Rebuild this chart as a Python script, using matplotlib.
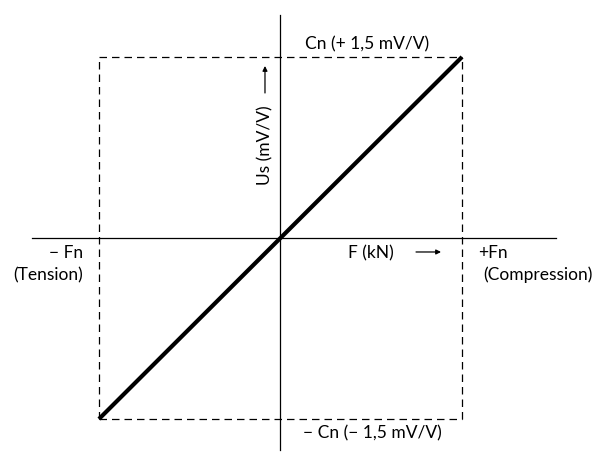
import matplotlib
matplotlib.use("Agg")
import matplotlib.pyplot as plt

# Data (force normalised to Fn, signal in mV/V)
force = [-1.0, 1.0]
signal = [-1.5, 1.5]
cn = 1.5
fn = 1.0

plt.rcParams['font.family'] = ['Lato', 'DejaVu Sans']

fig = plt.figure(figsize=(6.08, 4.61), dpi=100)
ax = fig.add_axes([0, 0, 1, 1])
ax.set_xlim(-1.545, 1.804)
ax.set_ylim(-1.848, 1.972)
ax.axis('off')

# axes lines
ax.plot([-1.369, 1.515], [0, 0], color='black', lw=0.9)
ax.plot([0, 0], [-1.757, 1.848], color='black', lw=0.9)

# dashed box
dash = dict(color='black', lw=0.9, linestyle=(0, (6, 4)))
ax.plot([-fn, fn], [cn, cn], **dash)
ax.plot([-fn, fn], [-cn, -cn], **dash)
ax.plot([-fn, -fn], [-cn, cn], **dash)
ax.plot([fn, fn], [-cn, cn], **dash)

# characteristic line
ax.plot(force, signal, color='black', lw=3.0, solid_capstyle='butt')

fs = 12.5
def px(x, y):
    return ((x - 280.5) / 181.5, (238 - y) / 120.67)

ax.text(*px(367, 44), 'Cn (+ 1,5 mV/V)', ha='center', va='center', fontsize=fs)
ax.text(*px(372, 433), '− Cn (− 1,5 mV/V)', ha='center', va='center', fontsize=fs)
ax.text(*px(265, 145), 'Us (mV/V)', ha='center', va='center', fontsize=fs, rotation=90)
ax.text(*px(83, 253), '− Fn', ha='right', va='center', fontsize=fs)
ax.text(*px(83, 275), '(Tension)', ha='right', va='center', fontsize=fs)
ax.text(*px(348, 253), 'F (kN)', ha='left', va='center', fontsize=fs)
ax.text(*px(478, 253), '+Fn', ha='left', va='center', fontsize=fs)
ax.text(*px(483, 275), '(Compression)', ha='left', va='center', fontsize=fs)

# arrows
ap = dict(arrowstyle='-|>', color='black', lw=0.9, mutation_scale=7, shrinkA=0, shrinkB=0)
ax.annotate('', xy=px(441, 252), xytext=px(416, 252), arrowprops=ap)
ax.annotate('', xy=px(265, 66), xytext=px(265, 93), arrowprops=ap)

fig.savefig('out.png', dpi=100)
